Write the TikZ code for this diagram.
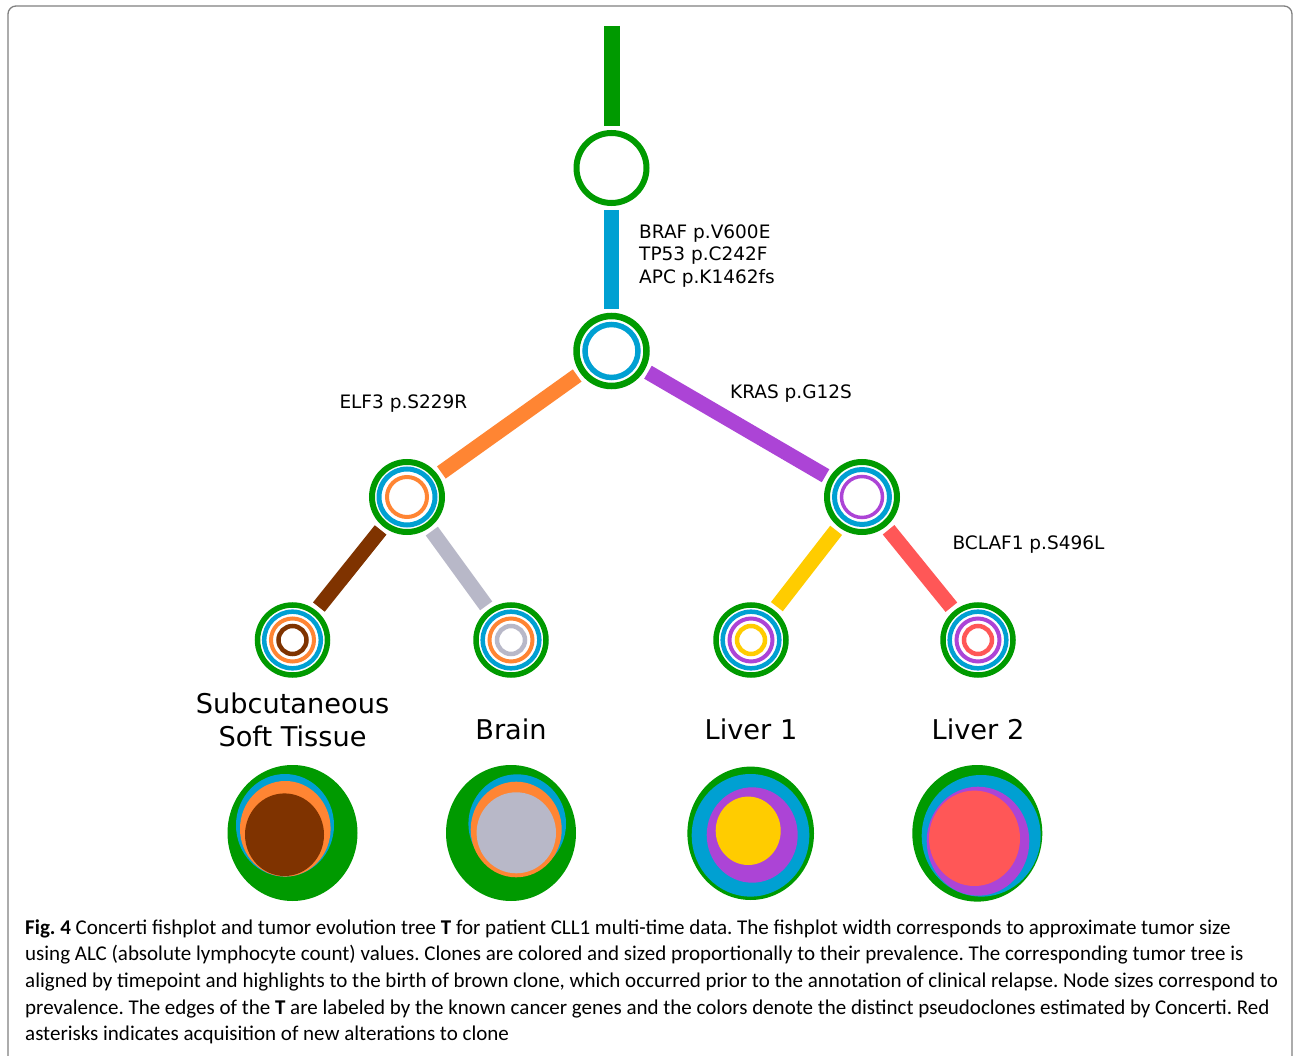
\documentclass[tikz,border=0pt]{standalone}
\usepackage{fontspec}
\setmainfont{DejaVu Sans}
\newfontfamily\capfont{Carlito}
\usetikzlibrary{positioning}
\definecolor{cgreen}{HTML}{009A00}
\definecolor{cblue}{HTML}{00A0D2}
\definecolor{corange}{HTML}{FF8533}
\definecolor{cpurple}{HTML}{AC44D6}
\definecolor{cbrown}{HTML}{7F3300}
\definecolor{cgray}{HTML}{B8B8C8}
\definecolor{cyellow}{HTML}{FFCC00}
\definecolor{cred}{HTML}{FF5757}
\definecolor{cframe}{HTML}{808080}
\newcommand{\edgew}{15}
% concentric clone rings of one tree node: radius/colour/width
\newcommand{\ringset}[2]{%
  \foreach \rr/\cc/\ww in {#2}
    \draw[draw=\cc, line width=\ww] (#1.center) circle[radius=\rr];}

\begin{document}
\frenchspacing
\begin{tikzpicture}[
  x=1pt, y=-1pt,
  slot/.style={circle, minimum size=84, inner sep=0},
  edge/.style={line width=\edgew},
  mut/.style={font=\fontsize{18.5}{22.5}\selectfont, inner sep=0, align=left},
  site/.style={font=\fontsize{27.2}{33.4}\selectfont, inner sep=0, align=center},
  captext/.style={font=\capfont\fontsize{21}{26.7}\selectfont, inner sep=0, anchor=base west},
]
\useasboundingbox (0,0) rectangle (1294,1056);

% ---- Frame ------------------------------------------------------------------
\draw[cframe, line width=1.3, rounded corners=8] (8,1056) -- (8,6) -- (1292,6) -- (1292,1056);

% ---- Tree nodes ---------------------------------------------------------------
\coordinate (top) at (611.5,26);
\node[slot] (root)  at (611.5,168) {};
\node[slot] (nbraf) at (611.5,351) {};
\node[slot] (nelf)  at (407,497) {};
\node[slot] (nkras) at (862,497) {};
\node[slot] (nsub)  at (292.5,640) {};
\node[slot] (nbrain) at (511,640) {};
\node[slot] (nliv1) at (751,640) {};
\node[slot] (nliv2) at (978,640) {};

\ringset{root}{35/cgreen/6}
\ringset{nbraf}{35/cgreen/6.5, 26.5/cblue/5.5}
\ringset{nelf}{35/cgreen/6, 28/cblue/5, 20/corange/4}
\ringset{nkras}{35/cgreen/6, 27.5/cblue/5, 20.5/cpurple/3.5}
\ringset{nsub}{35/cgreen/5.5, 28.3/cblue/4.5, 21.5/corange/4, 14/cbrown/4.5}
\ringset{nbrain}{35/cgreen/5.5, 28.3/cblue/4.5, 21.5/corange/4, 14/cgray/4.5}
\ringset{nliv1}{35/cgreen/5.5, 28.3/cblue/4.5, 21.5/cpurple/4, 14/cyellow/4.5}
\ringset{nliv2}{35/cgreen/5.5, 28.3/cblue/4.5, 21.5/cpurple/4, 14/cred/4.5}

% ---- Edges --------------------------------------------------------------------
\draw[edge, cgreen, line width=16] (top) -- (root);
\draw[edge, cblue] (root) -- (nbraf);
\draw[edge, corange] (nbraf) -- (nelf);
\draw[edge, cpurple] (nbraf) -- (nkras);
\draw[edge, cbrown] (nelf) -- (nsub);
\draw[edge, cgray] (nelf) -- (nbrain);
\draw[edge, cyellow] (nkras) -- (nliv1);
\draw[edge, cred] (nkras) -- (nliv2);

% ---- Mutation labels ----------------------------------------------------------
\node[mut, anchor=west] (lbraf) at (639,256)
  {BRAF p.V600E\\TP53 p.C242F\\APC p.K1462fs};
\node[mut, anchor=base west] (lelf) at (339.3,408.3) {ELF3 p.S229R};
\node[mut, anchor=base west] (lkras) at (730,398.3) {KRAS p.G12S};
\node[mut, anchor=base west] (lbclaf) at (952.3,550) {BCLAF1 p.S496L};

% ---- Sample names -------------------------------------------------------------
\node[site, anchor=base] (tsub) at (292.5,713.3) {Subcutaneous};
\node[site, anchor=base] (tsoft) at (292.5,746.7) {Soft Tissue};
\node[site, anchor=base] (tbrain) at (511,739.3) {Brain};
\node[site, anchor=base] (tliv1) at (751,739.3) {Liver 1};
\node[site, anchor=base] (tliv2) at (978,739.3) {Liver 2};

% ---- Fishplot cross sections -------------------------------------------------
% subcutaneous soft tissue
\fill[cgreen]  (292.5,833)   ellipse[x radius=65,   y radius=68];
\fill[cblue]   (285,825.3)   ellipse[x radius=49,   y radius=51.3];
\fill[corange] (285.3,828.8) ellipse[x radius=45.3, y radius=47.8];
\fill[cbrown]  (284.5,834.7) ellipse[x radius=39.5, y radius=41.3];
% brain
\fill[cgreen]  (511,833)     ellipse[x radius=65,   y radius=68];
\fill[cblue]   (517.2,823.8) ellipse[x radius=48.8, y radius=49.5];
\fill[corange] (516.2,829.5) ellipse[x radius=45.5, y radius=47.8];
\fill[cgray]   (516.3,832.8) ellipse[x radius=39.7, y radius=40.5];
% liver 1
\fill[cgreen]  (750.7,833.3) ellipse[x radius=63.3, y radius=66.7];
\fill[cblue]   (750.5,835.3) ellipse[x radius=58.8, y radius=61.3];
\fill[cpurple] (752.2,835)   ellipse[x radius=45.5, y radius=47.7];
\fill[cyellow] (748.2,830.8) ellipse[x radius=32.5, y radius=34.2];
% liver 2
\fill[cgreen]  (977.3,833.3) ellipse[x radius=65,   y radius=68.3];
\fill[cblue]   (981.2,835.8) ellipse[x radius=59.5, y radius=60.8];
\fill[cpurple] (978,841.2)   ellipse[x radius=51.3, y radius=54.5];
\fill[cred]    (974.5,838.3) ellipse[x radius=45.5, y radius=47.7];

% ---- Caption ------------------------------------------------------------------
\node[captext] (cap1) at (25,934)
  {\textbf{Fig. 4} Concerti fishplot and tumor evolution tree \textbf{T} for patient CLL1 multi-time data. The fishplot width corresponds to approximate tumor size};
\node[captext] (cap2) at (25,960.7)
  {using ALC (absolute lymphocyte count) values. Clones are colored and sized proportionally to their prevalence. The corresponding tumor tree is};
\node[captext] (cap3) at (25,987.4)
  {aligned by timepoint and highlights to the birth of brown clone, which occurred prior to the annotation of clinical relapse. Node sizes correspond to};
\node[captext] (cap4) at (25,1014)
  {prevalence. The edges of the \textbf{T} are labeled by the known cancer genes and the colors denote the distinct pseudoclones estimated by Concerti. Red};
\node[captext] (cap5) at (25,1040.8)
  {asterisks indicates acquisition of new alterations to clone};
\end{tikzpicture}
\end{document}
